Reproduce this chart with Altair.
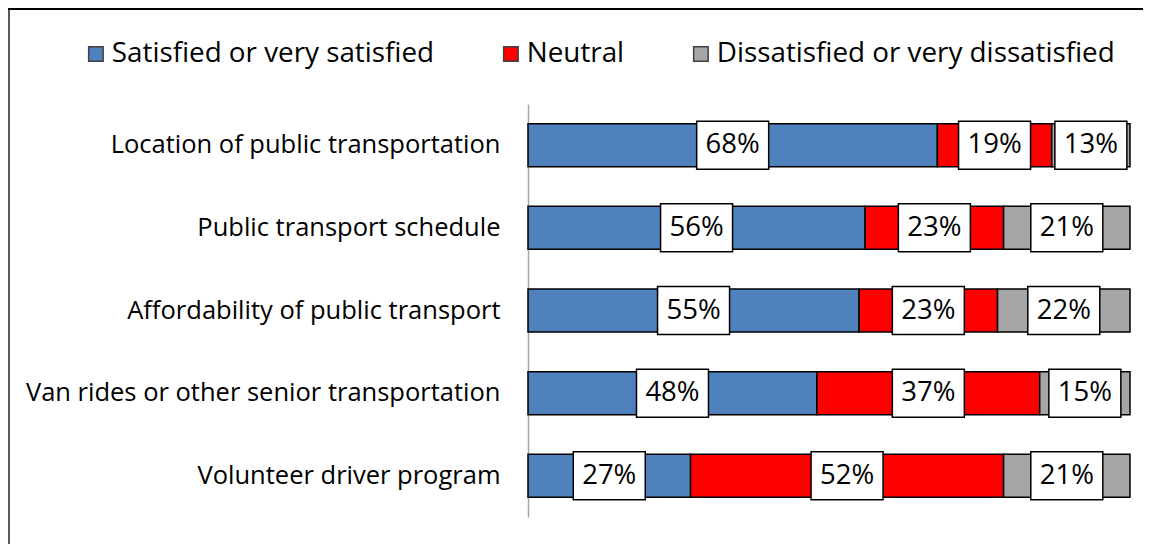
import altair as alt
import pandas as pd

categories = [
    "Location of public transportation",
    "Public transport schedule",
    "Affordability of public transport",
    "Van rides or other senior transportation",
    "Volunteer driver program",
]
responses = ["Satisfied or very satisfied", "Neutral", "Dissatisfied or very dissatisfied"]
satisfied = [68, 56, 55, 48, 27]
neutral = [19, 23, 23, 37, 52]
dissatisfied = [13, 21, 22, 15, 21]
colors = ["#4F81BD", "#FF0000", "#A6A6A6"]

rows = []
for i, cat in enumerate(categories):
    start = 0
    for j, (resp, vals) in enumerate(zip(responses, [satisfied, neutral, dissatisfied])):
        v = vals[i]
        rows.append(dict(category=cat, response=resp, order=j, value=v,
                         start=start, end=start + v, mid=start + v / 2,
                         label=f"{v}%"))
        start += v
df = pd.DataFrame(rows)

FONT = "Open Sans"

y_enc = alt.Y(
    "category:N", sort=categories,
    scale=alt.Scale(paddingInner=0.48, paddingOuter=0.238),
    axis=alt.Axis(title=None, labelFontSize=25.5, labelFont=FONT, labelColor="black",
                  labelPadding=28, ticks=False, domainColor="#A6A6A6", domainWidth=1.5,
                  labelLimit=700, grid=False),
)
x_scale = alt.Scale(domain=[0, 100], nice=False, zero=True)

bars = alt.Chart(df).mark_bar(stroke="black", strokeWidth=1.5).encode(
    y=y_enc,
    x=alt.X("start:Q", scale=x_scale, axis=None),
    x2="end:Q",
    color=alt.Color(
        "response:N", sort=responses,
        scale=alt.Scale(domain=responses, range=colors),
        legend=alt.Legend(
            title=None, orient="none", legendX=-446, legendY=-64,
            direction="horizontal", symbolType="square", symbolSize=210,
            symbolStrokeColor="#404040", symbolStrokeWidth=1.5,
            labelFontSize=27.8, labelFont=FONT, labelColor="black",
            columnPadding=62, labelOffset=2, labelLimit=600,
        ),
    ),
    order=alt.Order("order:Q"),
)

boxes = alt.Chart(df).mark_point(
    shape="M-1.5,-1H1.5V1H-1.5Z", size=2304, filled=True, fill="white",
    stroke="black", strokeWidth=1.5, opacity=1, fillOpacity=1, strokeOpacity=1,
).encode(
    y=alt.Y("category:N", sort=categories),
    x=alt.X("mid:Q", scale=x_scale, axis=None),
)

texts = alt.Chart(df).mark_text(
    font=FONT, fontSize=27.5, color="black", baseline="middle", align="center",
).encode(
    y=alt.Y("category:N", sort=categories),
    x=alt.X("mid:Q", scale=x_scale, axis=None),
    text="label:N",
)

# outer chart frame (left and top edges)
frame_left = alt.Chart(df).mark_rule(color="#595959", strokeWidth=2).encode(
    x=alt.value(-519), y=alt.value(-96), y2=alt.value(445)
)
frame_top = alt.Chart(df).mark_rule(color="black", strokeWidth=1.5).encode(
    x=alt.value(-520), x2=alt.value(620), y=alt.value(-95.5)
)

chart = alt.layer(bars, boxes, texts, frame_left, frame_top).properties(
    width=602, height=413,
    padding={"left": 520, "top": 96, "right": 13, "bottom": 27},
    autosize=alt.AutoSizeParams(type="none"),
).configure_view(stroke=None)

chart.save("out.html", embed_options={"renderer": "svg", "actions": False})
